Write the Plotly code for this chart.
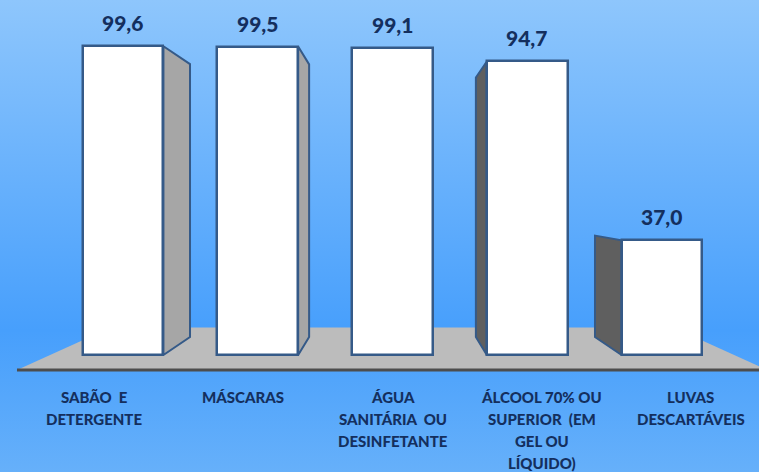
import plotly.graph_objects as go

# ---- data ----
categories = [["SABÃO&nbsp;&nbsp;E", "DETERGENTE"],
              ["MÁSCARAS"],
              ["ÁGUA", "SANITÁRIA&nbsp;&nbsp;OU", "DESINFETANTE"],
              ["ÁLCOOL 70% OU", "SUPERIOR&nbsp;&nbsp;(EM", "GEL OU", "LÍQUIDO)"],
              ["LUVAS", "DESCARTÁVEIS"]]
values = [99.6, 99.5, 99.1, 94.7, 37.0]
value_labels = [f"{v:.1f}".replace(".", ",") for v in values]

# ---- geometry / style parameters ----
XR = [-0.913, 4.72]
YR = [-37.74, 114.52]
BAR_W = 0.6
VP = (2.0, 50.0)          # vanishing point (data units)
K_BAR = 0.116             # depth of bars
K_FLOOR = 0.25            # depth of floor
FLOOR_FRONT_Y = -4.84
FLOOR_X = (-0.787, 4.78)
LABEL_SPREAD = 1.107
LINE_STEP = 22
NAVY = "#142f5e"
EDGE = "#355a88"

xs = list(range(len(values)))

def proj(x, y, k):
    return x + k * (VP[0] - x), y + k * (VP[1] - y)

fig = go.Figure()

# background gradient
fig.add_trace(go.Scatter(
    x=[XR[0], XR[1], XR[1], XR[0], XR[0]],
    y=[YR[0], YR[0], YR[1], YR[1], YR[0]],
    mode="lines", line=dict(width=0), fill="toself",
    fillgradient=dict(type="vertical",
                      colorscale=[[0, "#66b0fa"], [0.3, "#479ffc"], [1, "#8ec6fc"]]),
    hoverinfo="skip", showlegend=False))

# floor
fl, fr = FLOOR_X
bl = proj(fl, FLOOR_FRONT_Y, K_FLOOR)
br = proj(fr, FLOOR_FRONT_Y, K_FLOOR)
fig.add_trace(go.Scatter(
    x=[fl, fr, br[0], bl[0], fl],
    y=[FLOOR_FRONT_Y, FLOOR_FRONT_Y, br[1], bl[1], FLOOR_FRONT_Y],
    mode="lines", line=dict(width=0), fill="toself", fillcolor="#bcbcbc",
    hoverinfo="skip", showlegend=False))
fig.add_trace(go.Scatter(
    x=[fl, fr], y=[FLOOR_FRONT_Y, FLOOR_FRONT_Y], mode="lines",
    line=dict(color="#4d4d4d", width=3), hoverinfo="skip", showlegend=False))

# side faces
for x, v in zip(xs, values):
    if abs(x - VP[0]) < 1e-9:
        continue
    if x < VP[0]:
        xe = x + BAR_W / 2
        col = "#a6a6a6"
    else:
        xe = x - BAR_W / 2
        col = "#5f5f5f"
    tb = proj(xe, v, K_BAR)
    bb = proj(xe, 0, K_BAR)
    fig.add_trace(go.Scatter(
        x=[xe, xe, tb[0], bb[0], xe], y=[0, v, tb[1], bb[1], 0],
        mode="lines", line=dict(color=EDGE, width=2), fill="toself",
        fillcolor=col, hoverinfo="skip", showlegend=False))

# bar fronts on overlay axes
fig.add_trace(go.Bar(
    x=xs, y=values, width=BAR_W, xaxis="x2", yaxis="y2",
    marker=dict(color="white", line=dict(color=EDGE, width=2.5)),
    hoverinfo="skip", showlegend=False))

# value labels
for x, v, t in zip(xs, values, value_labels):
    fig.add_annotation(x=x, y=v, xref="x2", yref="y2", text=t, showarrow=False,
                       yanchor="bottom", yshift=9,
                       font=dict(family="Lato", size=21, color=NAVY, weight=900))

# category labels (one annotation per line for line spacing)
for x, lines in zip(xs, categories):
    lx = VP[0] + (x - VP[0]) * LABEL_SPREAD
    for j, ln in enumerate(lines):
        fig.add_annotation(x=lx, y=-13.5, xref="x2", yref="y2", text=ln,
                           showarrow=False, yanchor="middle", align="center",
                           yshift=-LINE_STEP * j,
                           font=dict(family="Lato", size=15, color=NAVY, weight=900))

ax = dict(visible=False, fixedrange=True)
fig.update_layout(
    width=759, height=472, margin=dict(l=0, r=0, t=0, b=0),
    paper_bgcolor="#5aa8fb", plot_bgcolor="rgba(0,0,0,0)",
    xaxis=dict(range=XR, **ax), yaxis=dict(range=YR, **ax),
    xaxis2=dict(range=XR, overlaying="x", **ax),
    yaxis2=dict(range=YR, overlaying="y", **ax),
    bargap=0, showlegend=False)

fig.write_html("out.html")
